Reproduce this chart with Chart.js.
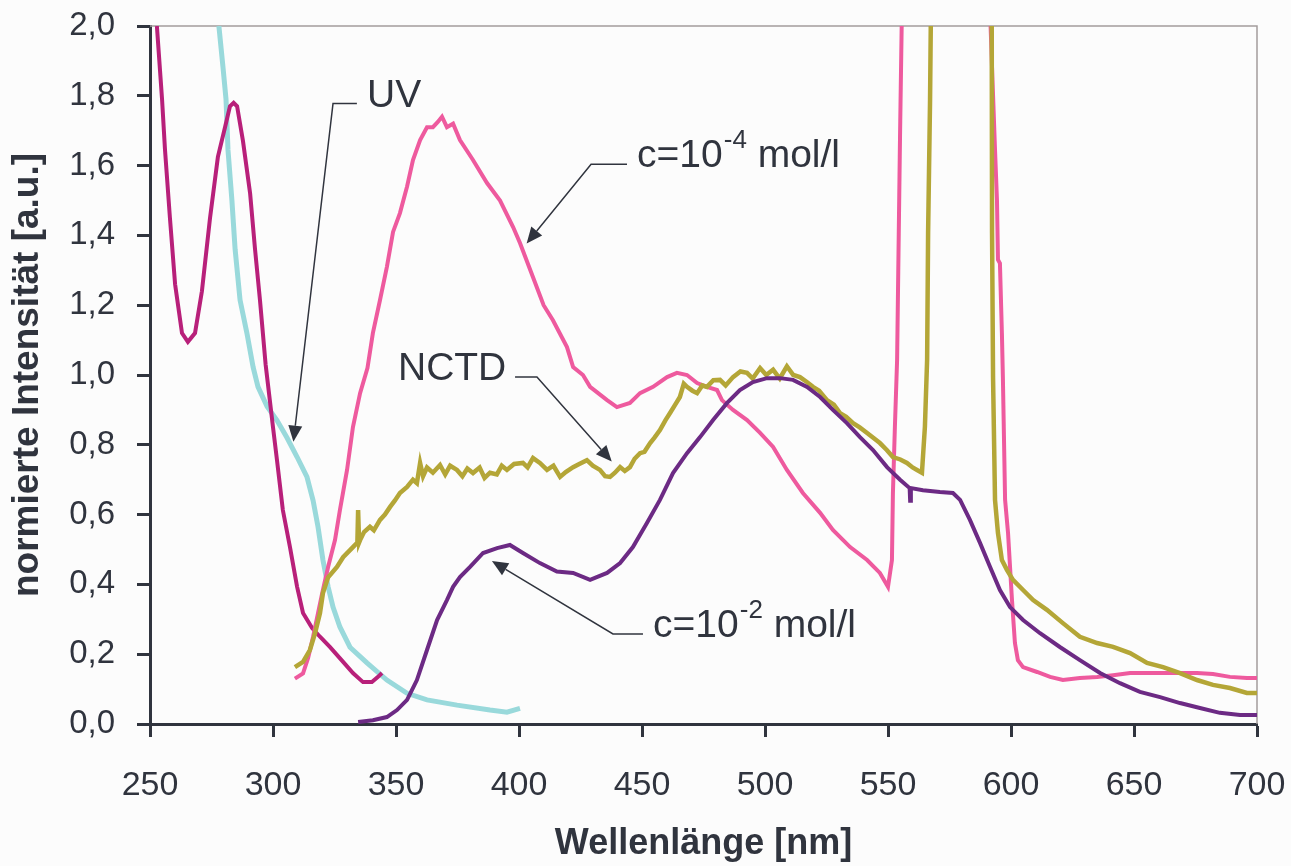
<!DOCTYPE html>
<html>
<head>
<meta charset="utf-8">
<script src="https://cdn.jsdelivr.net/npm/chart.js@4.4.1/dist/chart.umd.min.js"></script>
<style>
  html, body { margin: 0; padding: 0; background: #fcfcfc; }
  #wrap { width: 1291px; height: 866px; position: relative; }
</style>
</head>
<body>
<div id="wrap"><canvas id="spektrum"></canvas></div>
<script>
// Werte (x in nm, y normiert)
const refX = [252.8, 254.9, 256.1, 258.1, 260.2, 263, 265.4, 268.3, 271.1, 274.4, 277.6, 280.5, 282.5, 284, 285.4, 287.8, 290.7, 292.7, 294.7, 297, 300, 301.6, 304, 306.9, 309.8, 312.2, 315.9, 319.1, 323.2, 328.5, 332.5, 336.6, 340.2, 342.7, 344.3];
const refY = [2.0, 1.79, 1.645, 1.45, 1.26, 1.12, 1.095, 1.12, 1.24, 1.45, 1.625, 1.71, 1.77, 1.78, 1.77, 1.67, 1.52, 1.36, 1.215, 1.03, 0.85, 0.757, 0.613, 0.507, 0.393, 0.318, 0.275, 0.25, 0.22, 0.178, 0.146, 0.12, 0.12, 0.135, 0.146];

const uvX = [278, 279.7, 280.9, 281.7, 283.3, 284.6, 286.6, 289.4, 291.9, 293.9, 297.6, 301.6, 305.7, 309.8, 313.8, 316.3, 318.3, 320.3, 322.4, 324.4, 327.2, 331.3, 338.2, 346.3, 354.5, 362.6, 374.8, 388.2, 395.1, 400.4];
const uvY = [2.0, 1.88, 1.79, 1.645, 1.5, 1.36, 1.215, 1.12, 1.023, 0.966, 0.91, 0.87, 0.82, 0.765, 0.708, 0.64, 0.565, 0.47, 0.393, 0.335, 0.278, 0.22, 0.175, 0.126, 0.088, 0.069, 0.054, 0.04, 0.034, 0.045];

const c4X = [308.9, 312.2, 314.3, 316.3, 320, 322.4, 325.2, 327.2, 330.1, 332.5, 335.4, 338.4, 340.6, 343.5, 346.3, 348.8, 351.6, 354.5, 356.9, 359.8, 362.6, 365, 367, 368.7, 370.7, 373.2, 376, 381.3, 387, 392.3, 397.6, 400.4, 405.7, 410, 413.8, 419.5, 422, 426, 428.9, 435.8, 439.8, 445.1, 449.2, 454.5, 460.2, 464.2, 468.3, 472.4, 476.4, 480.5, 482.5, 487, 492.7, 498, 503.3, 508.9, 515.4, 522.4, 527.6, 534.6, 541.5, 546.7, 550, 551.6, 552, 552.8, 553.7, 554.9, 556.2, 590.2, 592.3, 593.5, 594.3, 594.7, 595.5, 596.3, 596.7, 597.6, 598.8, 600.4, 601.6, 602.8, 604.9, 610.6, 615.9, 621.1, 628, 635, 641.5, 648.4, 655.3, 661.8, 668.7, 675.6, 682.1, 689, 695.9, 700];
const c4Y = [0.13, 0.145, 0.19, 0.25, 0.375, 0.45, 0.527, 0.613, 0.728, 0.851, 0.948, 1.02, 1.12, 1.215, 1.31, 1.41, 1.464, 1.54, 1.616, 1.673, 1.71, 1.71, 1.725, 1.74, 1.71, 1.72, 1.673, 1.616, 1.55, 1.5, 1.424, 1.378, 1.28, 1.2, 1.157, 1.08, 1.023, 1.0, 0.966, 0.928, 0.908, 0.92, 0.948, 0.966, 0.994, 1.006, 1.0, 0.977, 0.966, 0.957, 0.928, 0.9, 0.871, 0.834, 0.794, 0.728, 0.662, 0.605, 0.556, 0.507, 0.47, 0.433, 0.393, 0.47, 0.662, 0.851, 1.043, 1.69, 2.3, 2.3, 1.88, 1.645, 1.5, 1.33, 1.32, 1.12, 0.994, 0.642, 0.547, 0.355, 0.232, 0.183, 0.163, 0.149, 0.135, 0.126, 0.132, 0.135, 0.14, 0.146, 0.146, 0.146, 0.146, 0.146, 0.143, 0.135, 0.132, 0.132];

const nctdX = [308.9, 312.2, 315, 317.1, 319.1, 320.3, 322.4, 326, 328.5, 332.5, 334.3, 334.6, 335, 335.4, 337, 339.4, 341, 343.5, 345.5, 347.6, 349.5, 351.6, 354.5, 356.9, 358.5, 359.8, 361, 362.6, 365, 367.9, 370, 372, 374.8, 377, 379, 381.3, 384, 386, 388.2, 391, 393, 395.1, 398, 401.6, 403.5, 405.7, 408.5, 411.4, 414, 416.7, 419, 422, 424.5, 427.6, 430, 432.9, 435, 437, 439, 441.1, 443, 445.1, 447, 449.2, 451, 453.3, 455, 457.3, 459.5, 461.4, 463.5, 465.4, 467, 468.3, 470.5, 472.4, 474.5, 476.4, 479, 481.7, 484, 487, 490, 492.7, 495, 498, 500.5, 503.3, 506, 508.9, 511.5, 514.2, 517, 519.5, 522, 525.2, 528, 530.5, 533, 535.8, 538.5, 541.5, 544, 546.7, 549.5, 552, 555, 557.7, 560, 561.8, 563.8, 565, 565.9, 566.3, 567.1, 567.8, 592.1, 592.3, 592.7, 593.5, 594.7, 596.3, 598.4, 600.8, 604.9, 609, 614.6, 621.1, 628, 635, 641.5, 648.4, 655.3, 661.8, 668.7, 675.6, 682.1, 689, 695.9, 700];
const nctdY = [0.163, 0.178, 0.212, 0.26, 0.318, 0.375, 0.42, 0.45, 0.478, 0.507, 0.52, 0.613, 0.52, 0.527, 0.55, 0.565, 0.555, 0.585, 0.6, 0.622, 0.64, 0.662, 0.679, 0.70, 0.69, 0.748, 0.71, 0.735, 0.72, 0.742, 0.715, 0.74, 0.728, 0.71, 0.732, 0.719, 0.735, 0.705, 0.72, 0.715, 0.74, 0.728, 0.745, 0.748, 0.735, 0.762, 0.748, 0.728, 0.74, 0.708, 0.722, 0.736, 0.745, 0.756, 0.74, 0.728, 0.71, 0.708, 0.72, 0.736, 0.725, 0.736, 0.76, 0.776, 0.78, 0.805, 0.82, 0.842, 0.87, 0.891, 0.915, 0.937, 0.975, 0.966, 0.955, 0.948, 0.97, 0.966, 0.985, 0.986, 0.97, 0.994, 1.01, 1.006, 0.99, 1.02, 1.0, 1.015, 0.99, 1.025, 1.0, 0.994, 0.98, 0.966, 0.955, 0.928, 0.915, 0.891, 0.88, 0.862, 0.85, 0.834, 0.82, 0.805, 0.785, 0.765, 0.758, 0.748, 0.735, 0.728, 0.72, 0.851, 1.043, 1.407, 1.79, 2.3, 2.3, 1.407, 0.994, 0.642, 0.547, 0.47, 0.441, 0.413, 0.384, 0.355, 0.327, 0.289, 0.25, 0.232, 0.221, 0.203, 0.175, 0.163, 0.146, 0.126, 0.112, 0.103, 0.089, 0.089];

const c2X = [334.6, 340.6, 346.3, 350.4, 354.5, 358.5, 362.6, 366.7, 370.7, 373.2, 376, 380.1, 385.4, 391.1, 396.3, 401.6, 408.5, 415.4, 422, 428.9, 435.8, 441.1, 446.3, 452, 457.3, 462.6, 468.3, 473.6, 478.9, 484.6, 489.8, 495.1, 500.8, 506.1, 511.4, 517.1, 522.4, 527.6, 533.3, 538.6, 543.9, 549.6, 554.9, 558.8, 559, 559.3, 564.2, 571.1, 576.4, 579.3, 583.3, 587.4, 591.5, 595.5, 599.6, 604.9, 611.8, 620, 628, 636.2, 644.3, 652.4, 660.6, 668.7, 676.8, 684.9, 693.1, 700];
const c2Y = [0.006, 0.011, 0.02, 0.04, 0.069, 0.126, 0.212, 0.298, 0.355, 0.393, 0.421, 0.45, 0.49, 0.504, 0.513, 0.49, 0.461, 0.437, 0.433, 0.413, 0.433, 0.461, 0.507, 0.576, 0.642, 0.719, 0.776, 0.822, 0.871, 0.92, 0.957, 0.98, 0.991, 0.991, 0.986, 0.966, 0.937, 0.9, 0.862, 0.822, 0.785, 0.736, 0.70, 0.676, 0.64, 0.676, 0.67, 0.665, 0.662, 0.642, 0.585, 0.519, 0.45, 0.384, 0.335, 0.298, 0.26, 0.22, 0.183, 0.146, 0.117, 0.092, 0.077, 0.06, 0.046, 0.032, 0.026, 0.026];

// Beschriftungen mit Pfeilen (Datenkoordinaten)
const labelText = ['UV', 'c=10', 'NCTD', 'c=10'];
const labelSup = ['', '-4', '', '-2'];
const labelRest = ['', ' mol/l', '', ' mol/l'];
const labelAt = [[338.2, 1.768], [448.0, 1.596], [350.8, 0.986], [454.5, 0.249]];
const leaderStart = [[334.1, 1.778], [443.9, 1.604], [398.4, 0.994], [450.4, 0.258]];
const leaderElbow = [[324.4, 1.778], [429.3, 1.604], [407.3, 0.994], [438.2, 0.258]];
const leaderTip = [[308.3, 0.809], [403.1, 1.377], [437.7, 0.752], [389.0, 0.467]];

const xTicks = [250, 300, 350, 400, 450, 500, 550, 600, 650, 700];

const dark = '#30343e';
const fontFam = '"Liberation Sans", Arial, sans-serif';

function toPoints(xs, ys) {
    return xs.map((x, i) => ({ x: x, y: ys[i] }));
}

function drawArrowHead(ctx, fx, fy, tx, ty) {
    const ang = Math.atan2(ty - fy, tx - fx);
    const len = 16, half = 7;
    const bx = tx - len * Math.cos(ang), by = ty - len * Math.sin(ang);
    ctx.beginPath();
    ctx.moveTo(tx, ty);
    ctx.lineTo(bx + half * Math.sin(ang), by - half * Math.cos(ang));
    ctx.lineTo(bx - half * Math.sin(ang), by + half * Math.cos(ang));
    ctx.closePath();
    ctx.fill();
    return [bx, by];
}

// Rahmen oben/rechts und Pfeil-Beschriftungen
const extrasPlugin = {
    id: 'extras',
    beforeDatasetsDraw(chart) {
        const ctx = chart.ctx, a = chart.chartArea;
        ctx.save();
        ctx.strokeStyle = '#a39c9c';
        ctx.lineWidth = 1.5;
        ctx.beginPath();
        ctx.moveTo(a.left, a.top);
        ctx.lineTo(a.right, a.top);
        ctx.lineTo(a.right, a.bottom);
        ctx.stroke();
        ctx.restore();
    },
    afterDatasetsDraw(chart) {
        const ctx = chart.ctx;
        const xs = chart.scales.x, ys = chart.scales.y;
        const px = p => [xs.getPixelForValue(p[0]), ys.getPixelForValue(p[1])];
        ctx.save();
        ctx.strokeStyle = dark;
        ctx.fillStyle = dark;
        ctx.lineWidth = 1.5;
        for (let i = 0; i < labelText.length; i++) {
            const s = px(leaderStart[i]), e = px(leaderElbow[i]), t = px(leaderTip[i]);
            const base = drawArrowHead(ctx, e[0], e[1], t[0], t[1]);
            ctx.beginPath();
            ctx.moveTo(s[0], s[1]);
            ctx.lineTo(e[0], e[1]);
            ctx.lineTo(base[0], base[1]);
            ctx.stroke();

            const p = px(labelAt[i]);
            ctx.textBaseline = 'alphabetic';
            ctx.textAlign = 'left';
            ctx.font = '39px ' + fontFam;
            ctx.fillText(labelText[i], p[0], p[1]);
            let w = ctx.measureText(labelText[i]).width;
            if (labelSup[i]) {
                ctx.font = '26px ' + fontFam;
                ctx.fillText(labelSup[i], p[0] + w + 1, p[1] - 19);
                w += ctx.measureText(labelSup[i]).width + 1;
                ctx.font = '39px ' + fontFam;
                ctx.fillText(labelRest[i], p[0] + w, p[1]);
            }
        }
        ctx.restore();
    }
};

const ctx = document.getElementById('spektrum').getContext('2d');
new Chart(ctx, {
    type: 'scatter',
    data: {
        datasets: [{
            label: 'c=10-2 mol/l',
            data: toPoints(c2X, c2Y),
            borderColor: '#6c2a84',
            borderWidth: 4
        }, {
            label: 'NCTD',
            data: toPoints(nctdX, nctdY),
            borderColor: '#b4a637',
            borderWidth: 4.5
        }, {
            label: 'c=10-4 mol/l',
            data: toPoints(c4X, c4Y),
            borderColor: '#ee5a9e',
            borderWidth: 4
        }, {
            label: 'Anregung',
            data: toPoints(refX, refY),
            borderColor: '#b8207a',
            borderWidth: 4
        }, {
            label: 'UV',
            data: toPoints(uvX, uvY),
            borderColor: '#99d9db',
            borderWidth: 5
        }]
    },
    options: {
        responsive: true,
        maintainAspectRatio: false,
        animation: false,
        showLine: true,
        elements: {
            point: { radius: 0, hoverRadius: 0 },
            line: { tension: 0, fill: false }
        },
        layout: { padding: { top: 26, right: 34, left: 0, bottom: 0 } },
        plugins: {
            legend: { display: false },
            tooltip: { enabled: false }
        },
        scales: {
            x: {
                type: 'linear',
                min: 250,
                max: 700,
                afterBuildTicks: s => { s.ticks = xTicks.map(v => ({ value: v })); },
                ticks: { padding: 28, color: dark, font: { family: fontFam, size: 34 } },
                grid: { drawOnChartArea: false, drawTicks: true, tickLength: 13, tickWidth: 3, tickColor: dark },
                border: { color: dark, width: 3 },
                title: {
                    display: true,
                    text: 'Wellenlänge [nm]',
                    color: dark,
                    font: { family: fontFam, size: 36, weight: 'bold' },
                    padding: { top: 0, bottom: 0 }
                },
                afterFit: s => {
                    s.height = 142;
                    s.paddingLeft = 0;
                    s.paddingRight = 0;
                }
            },
            y: {
                min: 0,
                max: 2,
                ticks: {
                    stepSize: 0.2,
                    padding: 22,
                    color: dark,
                    font: { family: fontFam, size: 33 },
                    callback: v => v.toFixed(1).replace('.', ',')
                },
                grid: { drawOnChartArea: false, drawTicks: true, tickLength: 13, tickWidth: 3, tickColor: dark },
                border: { color: dark, width: 3 },
                title: {
                    display: true,
                    text: 'normierte Intensität [a.u.]',
                    color: dark,
                    font: { family: fontFam, size: 37, weight: 'bold' },
                    padding: { top: 6, bottom: 0 }
                },
                afterFit: s => {
                    s.width = 150;
                    s.paddingTop = 0;
                    s.paddingBottom = 0;
                }
            }
        }
    },
    plugins: [extrasPlugin]
});
</script>
</body>
</html>
